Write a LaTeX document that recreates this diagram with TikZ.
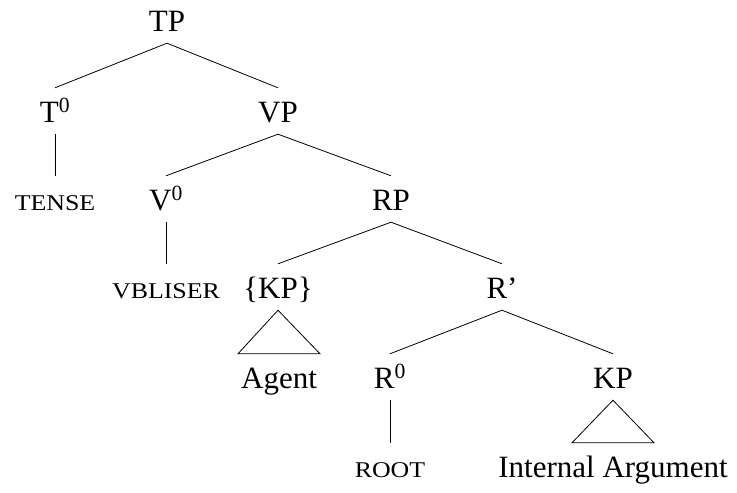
\documentclass[tikz,border=0pt]{standalone}
\usepackage{fontspec}
\setmainfont{Liberation Serif}
\newfontfamily\scfont[FakeStretch=1.15]{Liberation Serif}
\begin{document}
\begin{tikzpicture}[x=1pt,y=1pt,
  lab/.style={anchor=base, font=\fontsize{31}{31}\selectfont, text height=22pt, text depth=0pt, inner xsep=0pt, inner ysep=12pt},
  sclab/.style={lab, font=\fontsize{22.5}{22.5}\scfont},
  edge/.style={line width=0.8pt}]
\useasboundingbox (0,0) rectangle (737,-493);
\node[lab] (TP) at (167,-31) {TP};
\node[lab] (T0) at (55,-122) {T\textsuperscript{0}};
\node[lab] (VP) at (278,-122) {VP};
\node[sclab] (TENSE) at (55,-210) {TENSE};
\node[lab] (V0) at (166,-210) {V\textsuperscript{0}};
\node[lab] (RP) at (391,-210) {RP};
\node[sclab] (VBL) at (166,-298) {VBLISER};
\node[lab] (KPa) at (278,-298) {\{KP\}};
\node[lab] (Rb) at (502,-298) {R’};
\node[lab] (Agent) at (279,-388) {Agent};
\node[lab] (R0) at (390,-388) {R\textsuperscript{0}};
\node[lab] (KPb) at (613,-388) {KP};
\node[sclab] (ROOT) at (390,-477) {ROOT};
\node[lab] (IA) at (613,-477) {Internal Argument};
\draw[edge] (TP.south) -- (T0.north);
\draw[edge] (TP.south) -- (VP.north);
\draw[edge] (T0.south) -- (TENSE.north);
\draw[edge] (VP.south) -- (V0.north);
\draw[edge] (VP.south) -- (RP.north);
\draw[edge] (V0.south) -- (VBL.north);
\draw[edge] (RP.south) -- (KPa.north);
\draw[edge] (RP.south) -- (Rb.north);
\draw[edge] (KPa.south) -- ([xshift=-41pt]Agent.north) -- ([xshift=41pt]Agent.north) -- cycle;
\draw[edge] (Rb.south) -- (R0.north);
\draw[edge] (Rb.south) -- (KPb.north);
\draw[edge] (R0.south) -- (ROOT.north);
\draw[edge] (KPb.south) -- ([xshift=-41pt]IA.north) -- ([xshift=41pt]IA.north) -- cycle;
\end{tikzpicture}
\end{document}
